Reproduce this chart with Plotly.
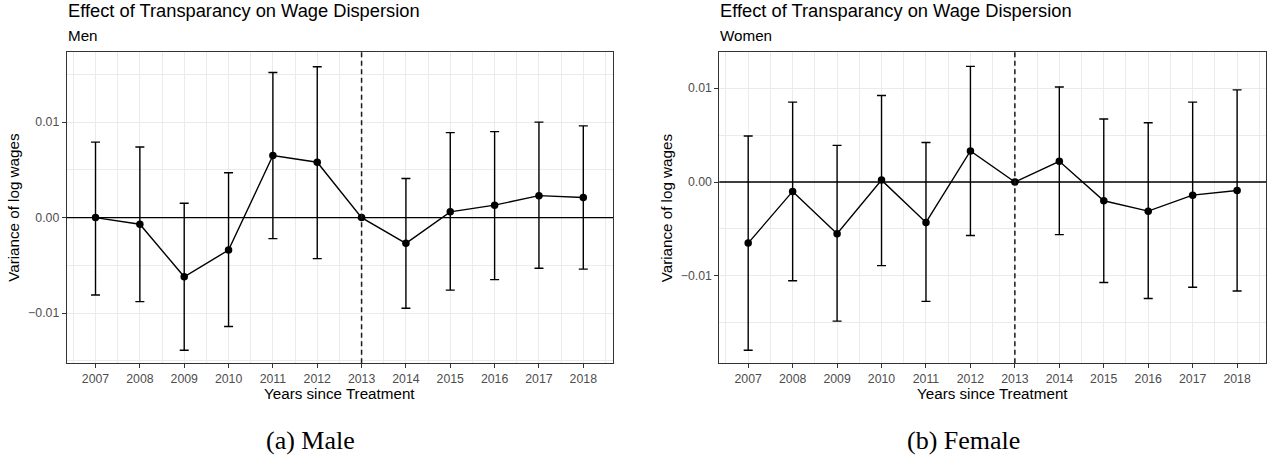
import plotly.graph_objects as go

# ---- data ----
years = [2007, 2008, 2009, 2010, 2011, 2012, 2013, 2014, 2015, 2016, 2017, 2018]

men_est = [0.0000, -0.0007, -0.0062, -0.0034, 0.0065, 0.0058, 0.0, -0.0027, 0.0006, 0.0013, 0.0023, 0.0021]
men_hi = [0.0079, 0.0074, 0.0015, 0.0047, 0.0152, 0.0158, 0.0, 0.0041, 0.0089, 0.0090, 0.0100, 0.0096]
men_lo = [-0.0081, -0.0088, -0.0139, -0.0114, -0.0022, -0.0043, 0.0, -0.0095, -0.0076, -0.0065, -0.0053, -0.0054]

women_est = [-0.0065, -0.0010, -0.0055, 0.0002, -0.0043, 0.0033, 0.0, 0.0022, -0.0020, -0.0031, -0.0014, -0.0009]
women_hi = [0.0049, 0.0085, 0.0039, 0.0092, 0.0042, 0.0123, 0.0, 0.0101, 0.0067, 0.0063, 0.0085, 0.0098]
women_lo = [-0.0179, -0.0105, -0.0148, -0.0089, -0.0127, -0.0057, 0.0, -0.0056, -0.0107, -0.0124, -0.0112, -0.0116]

y_tickvals = [-0.01, 0.0, 0.01]
y_ticktext = ["\u22120.01", "0.00", "0.01"]

treatment_year = 2013

title_text = "Effect of Transparancy on Wage Dispersion"
subtitles = ["Men", "Women"]
captions = ["(a) Male", "(b) Female"]
x_title = "Years since Treatment"
y_title = "Variance of log wages"

# ---- layout constants ----
W, H = 1272, 459
FONT = "Liberation Sans, Arial, Helvetica, sans-serif"
SERIF = "Liberation Serif, Times New Roman, serif"


def px_x(p):
    return p / W


def px_y(p):
    return 1 - p / H


fig = go.Figure()

panels = [
    dict(est=men_est, hi=men_hi, lo=men_lo, xa="x", ya="y",
         left=66.7, right=613.0, yr=[-0.01526, 0.01731], xr=[2006.35, 2018.67],
         ylab_x=14, cap_x=310),
    dict(est=women_est, hi=women_hi, lo=women_lo, xa="x2", ya="y2",
         left=719.3, right=1266.0, yr=[-0.01929, 0.0138], xr=[2006.35, 2018.65],
         ylab_x=666.5, cap_x=963),
]
top, bottom = 52.3, 363.3

annotations = []
shapes = []
for i, p in enumerate(panels):
    plus = [h - e for h, e in zip(p["hi"], p["est"])]
    minus = [e - l for e, l in zip(p["est"], p["lo"])]
    fig.add_trace(go.Scatter(
        x=years, y=p["est"], mode="lines+markers",
        line=dict(color="black", width=1.4),
        marker=dict(color="black", size=7.5),
        error_y=dict(type="data", array=plus, arrayminus=minus,
                     color="black", thickness=1.4, width=4.5),
        xaxis=p["xa"], yaxis=p["ya"], showlegend=False, hoverinfo="skip",
    ))
    axn = "" if i == 0 else "2"
    common_grid = dict(showgrid=True, gridcolor="#EBEBEB", gridwidth=1.3,
                       zeroline=False, showline=True, mirror=True,
                       linecolor="#333333", linewidth=1,
                       ticks="outside", ticklen=4, tickcolor="#333333", tickwidth=1,
                       tickfont=dict(family=FONT, size=12.3, color="#4D4D4D"))
    fig.layout["xaxis" + axn] = dict(
        domain=[px_x(p["left"]), px_x(p["right"])], range=p["xr"],
        anchor="y" + axn, tickvals=years, ticktext=[str(y) for y in years],
        minor=dict(tick0=2006.5, dtick=1, showgrid=True, gridcolor="#EBEBEB",
                   gridwidth=0.7, ticks=""),
        **common_grid)
    fig.layout["yaxis" + axn] = dict(
        domain=[px_y(bottom), px_y(top)], range=p["yr"],
        anchor="x" + axn, tickvals=y_tickvals, ticktext=y_ticktext,
        minor=dict(tick0=0.005, dtick=0.01, showgrid=True, gridcolor="#EBEBEB",
                   gridwidth=0.7, ticks=""),
        **common_grid)
    # reference lines
    shapes.append(dict(type="line", xref="paper", yref=p["ya"],
                       x0=px_x(p["left"]), x1=px_x(p["right"]), y0=0, y1=0, layer="above",
                       line=dict(color="black", width=1.3)))
    shapes.append(dict(type="line", xref=p["xa"], yref="paper",
                       x0=treatment_year, x1=treatment_year,
                       y0=px_y(bottom), y1=px_y(top), layer="above",
                       line=dict(color="#1a1a1a", width=1.5, dash="5px,3.5px")))
    # titles
    annotations.append(dict(text=title_text, xref="paper", yref="paper",
                            x=px_x(p["left"] - 1), y=px_y(11), xanchor="left", yanchor="middle",
                            showarrow=False, font=dict(family=FONT, size=18.3, color="black")))
    annotations.append(dict(text=subtitles[i], xref="paper", yref="paper",
                            x=px_x(p["left"] - 1), y=px_y(36), xanchor="left", yanchor="middle",
                            showarrow=False, font=dict(family=FONT, size=15.2, color="black")))
    annotations.append(dict(text=x_title, xref="paper", yref="paper",
                            x=px_x((p["left"] + p["right"]) / 2), y=px_y(393),
                            xanchor="center", yanchor="middle",
                            showarrow=False, font=dict(family=FONT, size=15.2, color="black")))
    annotations.append(dict(text=y_title, xref="paper", yref="paper", textangle=-90,
                            x=px_x(p["ylab_x"]), y=px_y((top + bottom) / 2),
                            xanchor="center", yanchor="middle",
                            showarrow=False, font=dict(family=FONT, size=15.2, color="black")))
    annotations.append(dict(text=captions[i], xref="paper", yref="paper",
                            x=px_x(p["cap_x"]), y=px_y(440),
                            xanchor="center", yanchor="middle",
                            showarrow=False, font=dict(family=SERIF, size=26, color="black")))

fig.update_layout(width=W, height=H, margin=dict(l=0, r=0, t=0, b=0),
                  paper_bgcolor="white", plot_bgcolor="white",
                  annotations=annotations, shapes=shapes)

fig.write_html("out.html", config={"displayModeBar": False},
               post_script="document.body.style.margin='0px';")
